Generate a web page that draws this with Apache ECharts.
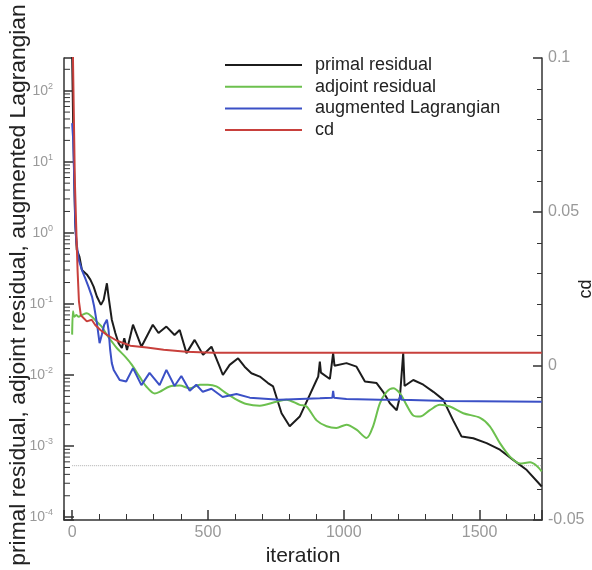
<!DOCTYPE html>
<html><head><meta charset="utf-8">
<script src="https://cdn.jsdelivr.net/npm/echarts@6/dist/echarts.min.js"></script>
<style>html,body{margin:0;padding:0;background:#fff}#c{width:592px;height:570px}</style>
</head><body><div id="c"></div>
<script>
// ---- data ----
const seriesNames = ['primal residual', 'adjoint residual', 'augmented Lagrangian', 'cd'];

const primalIter = [0, 4, 8, 11, 17, 27, 36, 54, 67, 79, 91, 106, 116, 128, 134, 146, 159, 171, 183, 192, 202, 224, 255, 297, 318, 347, 377, 396, 421, 451, 482, 513, 543, 555, 580, 611, 635, 660, 691, 721, 740, 771, 801, 838, 869, 900, 906, 912, 916, 949, 956, 961, 966, 1010, 1047, 1078, 1121, 1145, 1170, 1195, 1207, 1214, 1219, 1224, 1256, 1293, 1330, 1366, 1403, 1434, 1477, 1526, 1575, 1624, 1674, 1729];
const primalRes  = [300, 30, 5, 1.5, 0.58, 0.46, 0.30, 0.26, 0.22, 0.175, 0.127, 0.097, 0.114, 0.195, 0.127, 0.060, 0.039, 0.028, 0.024, 0.033, 0.0225, 0.051, 0.025, 0.051, 0.039, 0.048, 0.0366, 0.043, 0.0203, 0.0312, 0.0192, 0.025, 0.0131, 0.0100, 0.0139, 0.0172, 0.0131, 0.0106, 0.0095, 0.0077, 0.0069, 0.0029, 0.0019, 0.0026, 0.0047, 0.0085, 0.0095, 0.0154, 0.0108, 0.0088, 0.0090, 0.0203, 0.0135, 0.0147, 0.0131, 0.0081, 0.0077, 0.0058, 0.0040, 0.0032, 0.0050, 0.0052, 0.0203, 0.0070, 0.0085, 0.0073, 0.0058, 0.0045, 0.0023, 0.00136, 0.00129, 0.0011, 0.00089, 0.00064, 0.00046, 0.00027];

const adjointIter = [0, 3, 8, 15, 24, 36, 54, 73, 91, 109, 128, 146, 165, 196, 220, 248, 273, 304, 322, 359, 396, 433, 470, 500, 531, 568, 605, 642, 691, 752, 789, 838, 863, 900, 937, 973, 1010, 1047, 1084, 1108, 1133, 1158, 1182, 1207, 1231, 1256, 1281, 1317, 1354, 1391, 1440, 1502, 1538, 1575, 1612, 1649, 1686, 1710, 1729];
const adjointRes  = [0.037, 0.079, 0.066, 0.070, 0.066, 0.070, 0.074, 0.066, 0.056, 0.048, 0.0366, 0.0295, 0.0238, 0.018, 0.0139, 0.0095, 0.0069, 0.0055, 0.0058, 0.0069, 0.0071, 0.0065, 0.0073, 0.0073, 0.0069, 0.0055, 0.0045, 0.0039, 0.0037, 0.0042, 0.0045, 0.0038, 0.0036, 0.0023, 0.0019, 0.0018, 0.0020, 0.0017, 0.0013, 0.0019, 0.0040, 0.0058, 0.0065, 0.0055, 0.0038, 0.0027, 0.0026, 0.0032, 0.0038, 0.0036, 0.0029, 0.0025, 0.0019, 0.0011, 0.00071, 0.00057, 0.00059, 0.00053, 0.00044];

const augIter = [0, 4, 8, 12, 15, 24, 36, 48, 60, 73, 81, 91, 101, 109, 118, 128, 134, 140, 146, 153, 175, 199, 224, 255, 285, 322, 347, 377, 402, 433, 457, 481, 513, 554, 605, 654, 764, 912, 958, 961, 964, 1010, 1133, 1205, 1209, 1213, 1379, 1729];
const augVal  = [35, 20, 5, 1.2, 0.79, 0.42, 0.30, 0.23, 0.175, 0.127, 0.092, 0.054, 0.028, 0.0366, 0.051, 0.060, 0.043, 0.0225, 0.0147, 0.0118, 0.0085, 0.0081, 0.0125, 0.0072, 0.0107, 0.0072, 0.0118, 0.0070, 0.0097, 0.0060, 0.0073, 0.0058, 0.0064, 0.0049, 0.0054, 0.0048, 0.0045, 0.0047, 0.0048, 0.0060, 0.0048, 0.0046, 0.0045, 0.0045, 0.0052, 0.0045, 0.0043, 0.0042];

const cdIter = [0, 3, 10, 15, 20, 25, 32, 54, 72, 85, 104, 128, 165, 214, 275, 337, 420, 520, 1729];
const cdVal  = [0.2, 0.1, 0.06, 0.045, 0.031, 0.021, 0.0165, 0.0145, 0.0150, 0.0133, 0.0117, 0.0101, 0.0082, 0.0066, 0.0060, 0.0053, 0.0046, 0.0043, 0.0043];

const refLevel = 5.3e-4;          // dotted reference line
const refIter = [0, 1730];

const cdTicks = [-0.05, 0, 0.05, 0.1];

// ---- chart ----
const FONT = 'Liberation Sans, Arial, Helvetica, sans-serif';
const X_MIN = -30, X_MAX = 1730;
const Y_MIN = Math.pow(10, -4.04), Y_MAX = Math.pow(10, 2.46);
const colors = ['#1c1c1c', '#6cc04e', '#3b50c6', '#c8403c'];

function pairs(xs, ys) { return xs.map((x, i) => [x, ys[i]]); }

const minorVals = [];
for (let n = -4; n <= 2; n++) for (let k = 2; k <= 9; k++) {
  const v = k * Math.pow(10, n);
  if (v < Y_MAX) minorVals.push(v);
}

const axisColor = '#333';
const labelColor = '#999';

const chart = echarts.init(document.getElementById('c'), null, {renderer: 'canvas'});
const lineSeries = (name, data, color, yIdx, extra) => Object.assign({
  name, type: 'line', data, yAxisIndex: yIdx, symbol: 'none', showSymbol: false,
  lineStyle: {color, width: 2}, itemStyle: {color}, animation: false, clip: true
}, extra || {});

chart.setOption({
  animation: false,
  backgroundColor: '#fff',
  grid: {left: 64, right: 50, top: 58, bottom: 50, containLabel: false, outerBoundsMode: 'none'},
  legend: {
    data: seriesNames, orient: 'vertical', left: 224, top: 55, padding: 0,
    itemWidth: 77, itemHeight: 14, itemGap: 1.7,
    itemStyle: {color: 'rgba(0,0,0,0)', opacity: 0, borderWidth: 0},
    textStyle: {fontSize: 18, lineHeight: 20, color: '#222', fontFamily: FONT, padding: [0, 0, 0, 8]}
  },
  xAxis: {
    type: 'value', min: X_MIN, max: X_MAX, splitNumber: 3,
    axisLine: {show: true, onZero: false, lineStyle: {color: axisColor, width: 1.5}},
    axisTick: {show: true, inside: true, length: 10, lineStyle: {color: axisColor, width: 1.5}},
    minorTick: {show: true, splitNumber: 5, length: 6, lineStyle: {color: axisColor, width: 1}},
    splitLine: {show: false},
    axisLabel: {formatter: v => (Math.abs(v % 500) < 1e-9 ? String(v) : ''), color: labelColor, fontSize: 16, margin: 5, fontFamily: FONT},
    name: 'iteration', nameLocation: 'middle', nameGap: 19,
    nameTextStyle: {fontSize: 21, color: '#222', fontFamily: FONT}
  },
  yAxis: [{
    type: 'log', logBase: 10, min: Y_MIN, max: Y_MAX, position: 'left',
    axisLine: {show: true, onZero: false, lineStyle: {color: axisColor, width: 1.5}},
    axisTick: {show: true, inside: true, length: 10, lineStyle: {color: axisColor, width: 1.5}},
    splitLine: {show: false},
    axisLabel: {
      margin: 11, fontFamily: FONT,
      formatter: v => {
        const e = Math.log10(v), r = Math.round(e);
        if (Math.abs(e - r) > 1e-6) return '';
        return '{b|10}{s|' + r + '}';
      },
      rich: {
        b: {fontSize: 14, color: labelColor, fontFamily: FONT, lineHeight: 18},
        s: {fontSize: 9, color: labelColor, fontFamily: FONT, verticalAlign: 'top', lineHeight: 18, padding: [0, 0, 6, 0]}
      }
    },
    name: 'primal residual, adjoint residual, augmented Lagrangian',
    nameLocation: 'middle', nameRotate: 90, nameGap: 34, nameMoveOverlap: false,
    nameTextStyle: {fontSize: 22.8, color: '#222', fontFamily: FONT, padding: [0, 0, 0, 8]}
  }, {
    type: 'value', min: cdTicks[0], max: cdTicks[cdTicks.length - 1], interval: 0.05, position: 'right',
    axisLine: {show: true, onZero: false, lineStyle: {color: axisColor, width: 1.5}},
    axisTick: {show: true, inside: true, length: 9, lineStyle: {color: axisColor, width: 1.5}},
    minorTick: {show: true, splitNumber: 5, length: 5, lineStyle: {color: axisColor, width: 1}},
    splitLine: {show: false},
    axisLabel: {formatter: v => String(parseFloat(v.toFixed(3))), color: labelColor, fontSize: 16, margin: 6, fontFamily: FONT},
    name: 'cd', nameLocation: 'middle', nameRotate: 90, nameGap: 35, nameMoveOverlap: false,
    nameTextStyle: {fontSize: 18, color: '#222', fontFamily: FONT}
  }],
  series: [
    lineSeries('reference', pairs(refIter, refIter.map(() => refLevel)), '#aaa', 0,
      {lineStyle: {color: '#b0b0b0', width: 1, type: 'dotted'}, silent: true, z: 1}),
    lineSeries(seriesNames[0], pairs(primalIter, primalRes), colors[0], 0),
    lineSeries(seriesNames[1], pairs(adjointIter, adjointRes), colors[1], 0, {smooth: 0.3}),
    lineSeries(seriesNames[2], pairs(augIter, augVal), colors[2], 0),
    lineSeries(seriesNames[3], pairs(cdIter, cdVal), colors[3], 1),
    {
      type: 'custom', yAxisIndex: 0, silent: true, clip: false, z: 5, animation: false,
      data: minorVals.map(v => [X_MIN, v]),
      renderItem: (params, api) => {
        const p = api.coord([api.value(0), api.value(1)]);
        return {type: 'line', shape: {x1: p[0], y1: p[1], x2: p[0] + 6, y2: p[1]},
                style: {stroke: axisColor, lineWidth: 1}};
      }
    }
  ]
});
</script>
</body></html>
